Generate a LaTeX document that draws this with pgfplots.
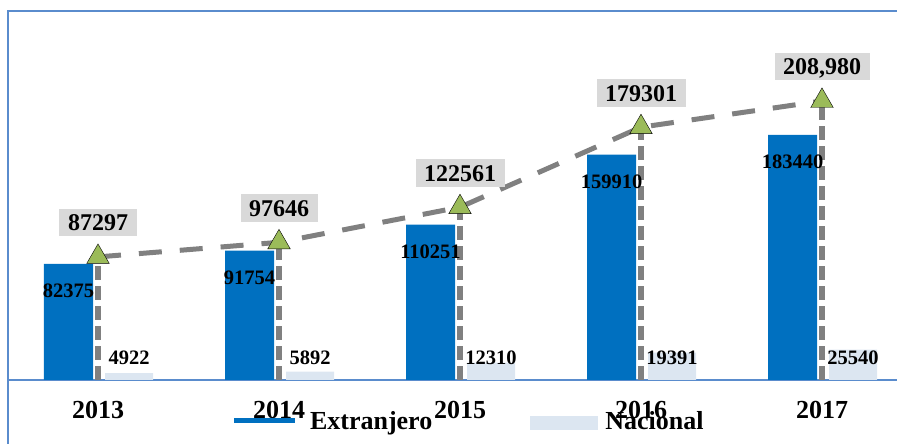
\documentclass[border=0pt]{standalone}
\usepackage{pgfplots}
\pgfplotsset{compat=1.18}
\usepackage{pgfplotstable}
\usepackage{fontspec}
\setmainfont{Liberation Serif}
\definecolor{eblue}{HTML}{0070C0}
\definecolor{nfill}{HTML}{DCE6F1}
\definecolor{lgray}{HTML}{808080}
\definecolor{mgreen}{HTML}{9BBB59}
\definecolor{boxgray}{HTML}{D9D9D9}
\definecolor{framec}{HTML}{5A8CCD}
\pgfplotstableread{
x E N T Elab Nlab Tlab Ny
0 82375 4922 87297 82375 4922 87297 10640
1 91754 5892 97646 91754 5892 97646 10640
2 110251 12310 122561 110251 12310 122561 10640
3 159910 19391 179301 159910 19391 179301 10640
4 173800 21500 197900 183440 25540 {208,980} 10640
}\data
\begin{document}
\begin{tikzpicture}
\useasboundingbox (0,0) rectangle (897bp,444bp);
\draw[framec, line width=1.5bp] (8bp,-100bp) -- (8bp,433bp) -- (1000bp,433bp);
\begin{axis}[
  at={(7.5bp,64bp)}, anchor=south west, scale only axis,
  width=905bp, height=369.42bp,
  xmin=-0.5, xmax=4.5, ymin=0, ymax=262000,
  axis y line=none, axis x line*=bottom,
  x axis line style={draw=framec, line width=1.5bp, -},
  xtick={0,1,2,3,4}, xticklabels={2013,2014,2015,2016,2017},
  major tick length=0pt,
  xticklabel style={anchor=base, yshift=-39bp, font=\fontsize{26bp}{30bp}\selectfont\bfseries},
  clip=false,
  legend columns=2,
  legend style={draw=none, fill=none, inner sep=0pt, outer sep=0pt,
    at={(0.24807,-0.08662)}, anchor=north west,
    font=\fontsize{26bp}{30bp}\selectfont\bfseries,
    nodes={inner sep=0pt, text height=17bp, text depth=0bp},
    /tikz/column 1/.style={column sep=13bp},
    /tikz/column 2/.style={column sep=98bp},
    /tikz/column 3/.style={column sep=7bp}},
]
\addplot[ybar, bar width=49bp, bar shift=-29.5bp, fill=eblue, draw=none,
  nodes near coords, point meta=explicit symbolic,
  every node near coord/.append style={anchor=base, xshift=-29.5bp, yshift=-33.5bp, text=black,
    font=\fontsize{20.5bp}{24bp}\selectfont\bfseries},
  legend image code/.code={\draw[eblue, line width=4bp] (0bp,0bp) -- (61bp,0bp);}]
  table[x=x, y=E, meta=Elab] {\data};
\addplot[ybar, bar width=48bp, bar shift=31bp, fill=nfill, draw=none,
  legend image code/.code={\fill[nfill] (0bp,-9.5bp) rectangle (68bp,4.5bp);}]
  table[x=x, y=N] {\data};
\addplot[forget plot, draw=none, mark=none, nodes near coords, point meta=explicit symbolic,
  every node near coord/.append style={anchor=base, xshift=31bp, text=black,
    font=\fontsize{20.5bp}{24bp}\selectfont\bfseries}]
  table[x=x, y=Ny, meta=Nlab] {\data};
\addplot[forget plot, lgray, line width=5bp, dash pattern=on 23bp off 18bp, mark=none]
  table[x=x, y=T] {\data};
\addplot[forget plot, only marks, mark=triangle*, mark size=13bp,
  mark options={fill=mgreen, draw=none},
  nodes near coords, point meta=explicit symbolic,
  every node near coord/.append style={anchor=base, yshift=26bp, fill=boxgray, text=black,
    text height=16.5bp, text depth=0bp, inner xsep=8.5bp, inner ysep=5.5bp,
    font=\fontsize{24bp}{28bp}\selectfont\bfseries}]
  table[x=x, y=T, meta=Tlab] {\data};
\addplot[forget plot, ycomb, lgray, line width=6bp, dash pattern=on 14bp off 6bp, mark=none]
  table[x=x, y=T] {\data};
\legend{Extranjero, Nacional}
\end{axis}
\end{tikzpicture}
\end{document}
